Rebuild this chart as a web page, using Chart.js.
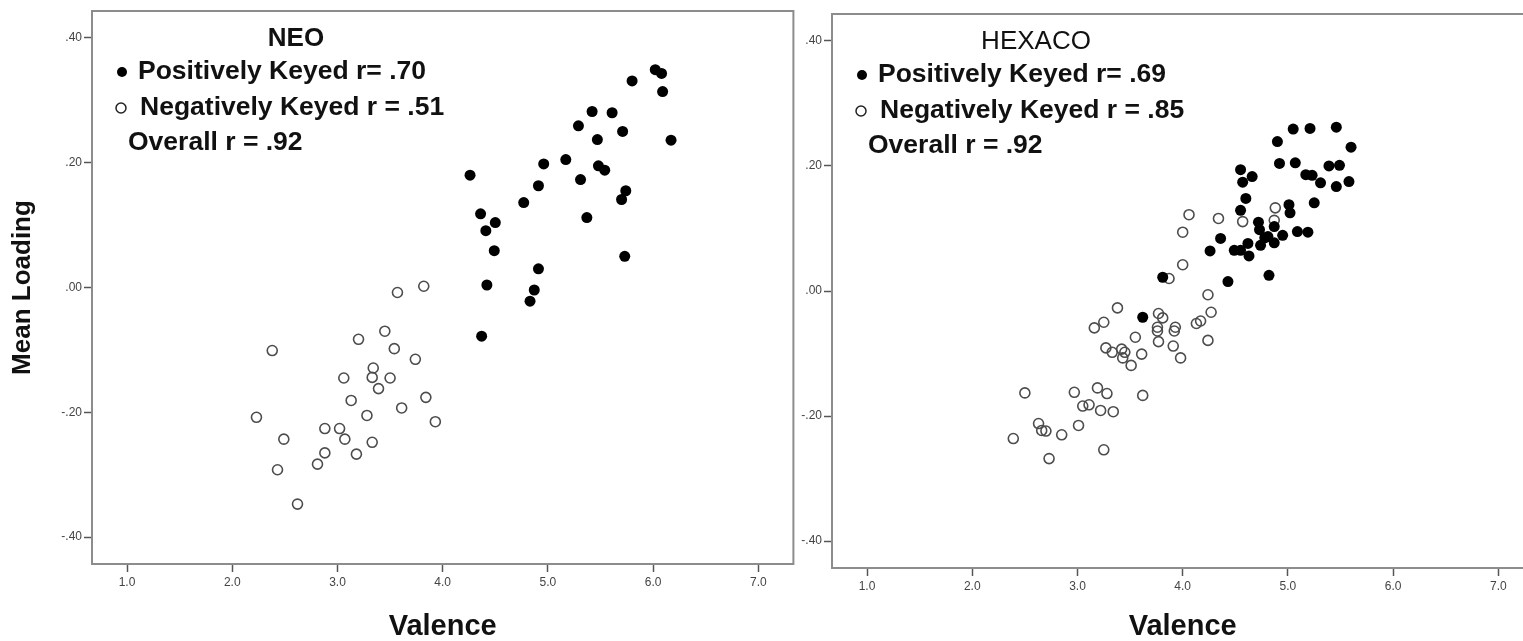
<!DOCTYPE html>
<html>
<head>
<meta charset="utf-8">
<script src="https://cdn.jsdelivr.net/npm/chart.js@4.4.1/dist/chart.umd.min.js"></script>
<style>
    html, body { margin: 0; padding: 0; background: #fff; overflow: hidden; width: 1523px; height: 641px; }
    .panel { position: absolute; top: 0; height: 644px; }
    #neoWrap { left: 0; width: 800px; }
    #hexWrap { left: 796px; width: 744px; }
</style>
</head>
<body>
<div class="panel" id="neoWrap"><canvas id="neoChart"></canvas></div>
<div class="panel" id="hexWrap"><canvas id="hexChart"></canvas></div>
<script>
// --- AXES ---
const xTicks = [1, 2, 3, 4, 5, 6, 7];
const xTickLabels = ['1.0', '2.0', '3.0', '4.0', '5.0', '6.0', '7.0'];
const yTicks = [0.4, 0.2, 0, -0.2, -0.4];
const yTickLabels = ['.40', '.20', '.00', '-.20', '-.40'];
const xRange = [0.667, 7.333];
const yRange = [-0.443, 0.443];

// --- NEO (valence, mean loading) ---
const neoPositive = [
    [6.02, 0.349], [6.08, 0.343], [5.80, 0.331], [6.09, 0.314], [5.42, 0.282], [5.61, 0.280],
    [5.29, 0.259], [5.71, 0.250], [5.47, 0.237], [6.17, 0.236], [4.96, 0.198], [5.17, 0.205],
    [5.48, 0.195], [5.54, 0.188], [4.26, 0.180], [5.31, 0.173], [4.91, 0.163], [5.74, 0.155],
    [5.70, 0.141], [4.77, 0.136], [4.36, 0.118], [4.50, 0.104], [4.41, 0.091], [5.37, 0.112],
    [4.49, 0.059], [5.73, 0.050], [4.91, 0.030], [4.42, 0.004], [4.87, -0.004], [4.83, -0.022],
    [4.37, -0.078]
];
const neoNegative = [
    [3.82, 0.002], [3.57, -0.008], [3.45, -0.070], [3.20, -0.083], [2.38, -0.101], [3.54, -0.098],
    [3.74, -0.115], [3.34, -0.129], [3.06, -0.145], [3.33, -0.144], [3.50, -0.145], [3.39, -0.162],
    [3.84, -0.176], [3.13, -0.181], [3.61, -0.193], [2.23, -0.208], [3.93, -0.215], [3.28, -0.205],
    [2.88, -0.226], [3.02, -0.226], [3.07, -0.243], [2.49, -0.243], [3.33, -0.248], [2.88, -0.265],
    [3.18, -0.267], [2.81, -0.283], [2.43, -0.292], [2.62, -0.347]
];

// --- HEXACO ---
const hexPositive = [
    [5.05, 0.259], [5.21, 0.260], [5.46, 0.262], [5.60, 0.230], [4.90, 0.239], [4.92, 0.204],
    [5.07, 0.205], [5.39, 0.200], [5.49, 0.201], [4.55, 0.194], [4.66, 0.183], [4.57, 0.174],
    [5.17, 0.186], [5.23, 0.185], [5.31, 0.173], [5.46, 0.167], [5.58, 0.175], [4.60, 0.148],
    [5.25, 0.141], [4.55, 0.129], [5.01, 0.138], [5.02, 0.125], [4.72, 0.110], [4.73, 0.098],
    [4.36, 0.084], [4.26, 0.064], [4.49, 0.065], [4.55, 0.065], [4.62, 0.076], [4.63, 0.056],
    [4.74, 0.073], [4.81, 0.087], [4.87, 0.103], [4.87, 0.077], [4.95, 0.089], [5.09, 0.095],
    [5.19, 0.094], [4.43, 0.015], [4.82, 0.025], [3.81, 0.022], [3.62, -0.042], [4.78, 0.085]
];
const hexNegative = [
    [4.06, 0.122], [4.00, 0.094], [4.00, 0.042], [3.87, 0.020], [3.38, -0.027], [3.77, -0.036],
    [3.81, -0.043], [3.25, -0.050], [3.16, -0.059], [3.76, -0.058], [3.76, -0.064], [3.93, -0.058],
    [3.92, -0.064], [3.55, -0.074], [3.77, -0.081], [3.91, -0.088], [3.27, -0.091], [3.33, -0.098],
    [3.42, -0.093], [3.45, -0.098], [3.61, -0.101], [3.43, -0.107], [3.98, -0.107], [3.51, -0.119],
    [2.50, -0.163], [2.97, -0.162], [3.19, -0.155], [3.28, -0.164], [3.62, -0.167], [3.05, -0.184],
    [3.11, -0.182], [3.22, -0.191], [3.34, -0.193], [2.63, -0.212], [2.66, -0.223], [2.70, -0.224],
    [3.01, -0.215], [2.85, -0.230], [2.39, -0.236], [3.25, -0.254], [2.73, -0.268], [4.34, 0.116],
    [4.57, 0.111], [4.88, 0.133], [4.87, 0.113], [4.24, -0.006], [4.27, -0.034], [4.17, -0.048],
    [4.13, -0.052], [4.24, -0.079]
];

const neoNotes = ['NEO', 'Positively Keyed r= .70', 'Negatively Keyed r = .51', 'Overall r = .92'];
const hexNotes = ['HEXACO', 'Positively Keyed r= .69', 'Negatively Keyed r = .85', 'Overall r = .92'];

const toPoints = arr => arr.map(p => ({ x: p[0], y: p[1] }));
const FONT = "'Liberation Sans', Arial, sans-serif";

// box around the plot area
const framePlugin = {
    id: 'frame',
    beforeDatasetsDraw(chart) {
        const { ctx, chartArea: a } = chart;
        ctx.save();
        ctx.strokeStyle = '#8c8c8c';
        ctx.lineWidth = 2;
        ctx.strokeRect(a.left, a.top, a.right - a.left, a.bottom - a.top);
        ctx.restore();
    }
};

// title and keyed-r text in the upper left corner
const notesPlugin = {
    id: 'notes',
    afterDraw(chart, args, opts) {
        const { ctx, chartArea: a } = chart;
        const t = opts.lines;
        ctx.save();
        ctx.fillStyle = '#111';
        ctx.textBaseline = 'alphabetic';
        ctx.textAlign = 'center';
        ctx.font = opts.titleWeight + ' 26px ' + FONT;
        ctx.fillText(t[0], a.left + 204, a.top + 35);

        ctx.textAlign = 'left';
        ctx.font = 'bold 26.5px ' + FONT;
        ctx.fillText(t[1], a.left + 46, a.top + 68);
        ctx.fillText(t[2], a.left + 48, a.top + 104);
        ctx.fillText(t[3], a.left + 36, a.top + 139);

        ctx.beginPath();
        ctx.arc(a.left + 30, a.top + 61, 5, 0, Math.PI * 2);
        ctx.fillStyle = '#000';
        ctx.fill();
        ctx.beginPath();
        ctx.arc(a.left + 29, a.top + 97, 5, 0, Math.PI * 2);
        ctx.strokeStyle = '#222';
        ctx.lineWidth = 1.5;
        ctx.stroke();
        ctx.restore();
    }
};

function makeChart(id, pos, neg, notes, opt) {
    const ctx = document.getElementById(id).getContext('2d');
    return new Chart(ctx, {
        type: 'scatter',
        data: {
            datasets: [
                { label: 'Positively Keyed', data: toPoints(pos), pointRadius: 5.5, pointBackgroundColor: '#000', pointBorderWidth: 0 },
                { label: 'Negatively Keyed', data: toPoints(neg), pointRadius: 5, pointBackgroundColor: 'rgba(0,0,0,0)', pointBorderColor: '#4d4d4d', pointBorderWidth: 1.6 }
            ]
        },
        options: {
            responsive: true,
            maintainAspectRatio: false,
            animation: false,
            events: [],
            layout: { padding: { top: opt.top, right: 6, bottom: 0, left: 0 } },
            plugins: {
                legend: { display: false },
                tooltip: { enabled: false },
                notes: { lines: notes, titleWeight: opt.titleWeight }
            },
            scales: {
                x: {
                    type: 'linear',
                    min: xRange[0], max: xRange[1],
                    afterBuildTicks: s => { s.ticks = xTicks.map(v => ({ value: v })); },
                    afterFit: s => { s.height = 644 - opt.bottom; },
                    ticks: {
                        callback: (v) => xTickLabels[xTicks.indexOf(v)],
                        font: { family: FONT, size: 12 }, color: '#444', padding: 3, maxRotation: 0
                    },
                    grid: { drawOnChartArea: false, drawTicks: true, tickLength: 8, tickWidth: 1.5, tickColor: '#555' },
                    border: { color: '#555', width: 2 },
                    title: { display: true, text: 'Valence', color: '#111', font: { family: FONT, size: 29, weight: 'bold' }, padding: { top: 0, bottom: 0 } }
                },
                y: {
                    type: 'linear',
                    min: yRange[0], max: yRange[1],
                    afterBuildTicks: s => { s.ticks = yTicks.map(v => ({ value: v })); },
                    afterFit: s => { s.width = opt.yWidth; },
                    ticks: {
                        callback: (v) => yTickLabels[yTicks.indexOf(v)],
                        font: { family: FONT, size: 12 }, color: '#444', padding: 2
                    },
                    grid: { drawOnChartArea: false, drawTicks: true, tickLength: 8, tickWidth: 1.5, tickColor: '#555' },
                    border: { color: '#555', width: 2 },
                    title: { display: opt.yTitle, text: 'Mean Loading', color: '#111', font: { family: FONT, size: 26, weight: 'bold' }, padding: { top: 7, bottom: 0 } }
                }
            }
        },
        plugins: [framePlugin, notesPlugin]
    });
}

makeChart('neoChart', neoPositive, neoNegative, neoNotes, { top: 11, bottom: 564, yWidth: 92, yTitle: true, titleWeight: 'bold' });
makeChart('hexChart', hexPositive, hexNegative, hexNotes, { top: 14, bottom: 568, yWidth: 36, yTitle: false, titleWeight: 'normal' });
</script>
</body>
</html>
